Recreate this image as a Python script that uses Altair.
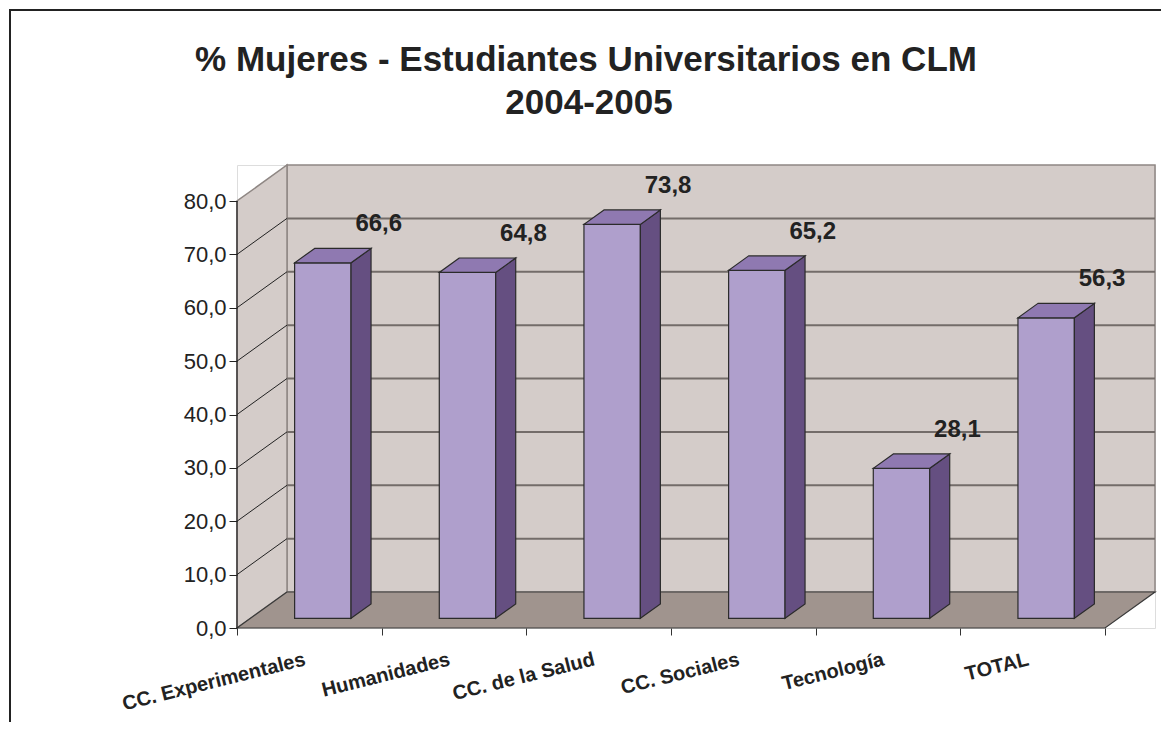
import altair as alt
import pandas as pd

# ---- data ----
categories = ["CC. Experimentales", "Humanidades", "CC. de la Salud",
              "CC. Sociales", "Tecnología", "TOTAL"]
values = [66.6, 64.8, 73.8, 65.2, 28.1, 56.3]
y_ticks = [0, 10, 20, 30, 40, 50, 60, 70, 80]
title_lines = ["% Mujeres - Estudiantes Universitarios en CLM", "2004-2005"]

# ---- 3D styling constants ----
W, H = 918, 463
N = len(categories)
YMAX = 80
DX = 50 / ((W - 50) / N)     # depth in category units
DY = 36 / ((H - 36) / YMAX)  # depth in value units
FF = 0.27   # depth position of bar front face (fraction of floor depth)
BW = 0.39   # bar width (category units)
BD = 0.40   # bar depth (fraction of floor depth)
FONT = "Liberation Sans"

WALL = "#D4CCC9"
WALL_EDGE = "#8F8784"
FLOOR = "#A0948E"
FRONT = "#AF9FCC"
SIDE = "#654F81"
TOP = "#8F79B1"
OUTLINE = "#2B2B2B"

xs = alt.Scale(domain=[0, N + DX], nice=False, zero=False)
ys = alt.Scale(domain=[0, YMAX + DY], nice=False, zero=False)

x_axis = alt.Axis(values=list(range(N + 1)), labels=False, domain=False, grid=False,
                  ticks=True, tickSize=7, tickColor="#333333", tickWidth=1, title=None,
                  zindex=1)
y_axis = alt.Axis(values=y_ticks, domain=False, grid=False, tickSize=8, tickColor="#222222",
                  labelExpr="replace(format(datum.value, '.1f'), '.', ',')",
                  labelFont=FONT, labelFontSize=22, labelColor="#222222", labelPadding=3,
                  title=None, zindex=1)


def X(f="x"):
    return alt.X(f"{f}:Q", scale=xs, axis=x_axis, title=None, stack=None)


def Y(f="y"):
    return alt.Y(f"{f}:Q", scale=ys, axis=y_axis, title=None, stack=None)


# ---- tables ----
back_df = pd.DataFrame([{"x": DX, "x2": N + DX, "y": DY, "y2": YMAX + DY}])
leftwall_df = pd.DataFrame([{"x": 0, "y": 0, "y2": YMAX, "id": 0},
                            {"x": DX, "y": DY, "y2": YMAX + DY, "id": 0}])
floor_df = pd.DataFrame([{"y": 0, "x": 0, "x2": N, "id": 0},
                         {"y": DY, "x": DX, "x2": N + DX, "id": 0}])
grid_back_df = pd.DataFrame([{"x": DX, "x2": N + DX, "y": v + DY} for v in y_ticks[1:-1]])
grid_left_df = pd.DataFrame([{"x": 0, "x2": DX, "y": v, "y2": v + DY} for v in y_ticks[1:-1]])
axis_line_df = pd.DataFrame([{"x": 0, "y": 0, "y2": YMAX}])

front_rows, side_rows, top_rows, lab_rows = [], [], [], []
for i, (c, v) in enumerate(zip(categories, values)):
    xl = i + 0.5 - BW / 2 + FF * DX
    xr = xl + BW
    yb = FF * DY
    yt = yb + v
    front_rows.append({"cat": c, "x": xl, "x2": xr, "y": yb, "y2": yt})
    side_rows += [{"cat": c, "x": xr, "y": yb, "y2": yt},
                  {"cat": c, "x": xr + BD * DX, "y": yb + BD * DY, "y2": yt + BD * DY}]
    top_rows += [{"cat": c, "y": yt, "x": xl, "x2": xr},
                 {"cat": c, "y": yt + BD * DY, "x": xl + BD * DX, "x2": xr + BD * DX}]
    lab_rows.append({"cat": c, "x": i + 0.98, "y": v + 9,
                     "label": f"{v:.1f}".replace(".", ",")})
front_df = pd.DataFrame(front_rows)
side_df = pd.DataFrame(side_rows)
top_df = pd.DataFrame(top_rows)
lab_df = pd.DataFrame(lab_rows)
xlab_df = pd.DataFrame({"x": [i + 0.48 for i in range(N)], "cat": categories})
title_df = pd.DataFrame({"line": [0, 1], "text": title_lines})
one = pd.DataFrame([{"k": 1}])

# ---- layers ----
frame = alt.Chart(one).mark_rect(fillOpacity=0, stroke="#222222", strokeWidth=2).encode(
    x=alt.value(-227), x2=alt.value(W + 60), y=alt.value(-155), y2=alt.value(H + 200))
back = alt.Chart(back_df).mark_rect(fill=WALL, stroke=WALL_EDGE, strokeWidth=1.5).encode(
    x=X(), x2="x2:Q", y=Y(), y2="y2:Q")
leftwall = alt.Chart(leftwall_df).mark_area(orient="vertical", fill=WALL, stroke=WALL_EDGE,
                                            strokeWidth=1.5).encode(
    x=X(), y=Y(), y2="y2:Q", detail="id:N")
floor = alt.Chart(floor_df).mark_area(orient="horizontal", fill=FLOOR, stroke="#3A3A3A",
                                      strokeWidth=1.2).encode(
    y=Y(), x=X(), x2="x2:Q", detail="id:N")
grid_back = alt.Chart(grid_back_df).mark_rule(color="#736C69", strokeWidth=2).encode(
    x=X(), x2="x2:Q", y=Y())
grid_left = alt.Chart(grid_left_df).mark_rule(color="#222222", strokeWidth=1).encode(
    x=X(), x2="x2:Q", y=Y(), y2="y2:Q")
axis_line = alt.Chart(axis_line_df).mark_rule(color="#222222", strokeWidth=1.2).encode(
    x=X(), y=Y(), y2="y2:Q")

fronts = alt.Chart(front_df).mark_rect(fill=FRONT, stroke=OUTLINE, strokeWidth=1.2).encode(
    x=X(), x2="x2:Q", y=Y(), y2="y2:Q")
sides = alt.Chart(side_df).mark_area(orient="vertical", fill=SIDE, stroke=OUTLINE,
                                     strokeWidth=1.2).encode(
    x=X(), y=Y(), y2="y2:Q", detail="cat:N")
tops = alt.Chart(top_df).mark_area(orient="horizontal", fill=TOP, stroke=OUTLINE,
                                   strokeWidth=1.2).encode(
    y=Y(), x=X(), x2="x2:Q", detail="cat:N")

labels = alt.Chart(lab_df).mark_text(font=FONT, fontSize=24, fontWeight="bold",
                                     color="#222222", baseline="middle", align="center").encode(
    x=X(), y=Y(), text="label:N")

xlabels = alt.Chart(xlab_df).mark_text(font=FONT, fontSize=20, fontWeight="bold",
                                       color="#222222", align="right", baseline="alphabetic",
                                       angle=346).encode(
    x=X(), y=alt.value(H + 37), text="cat:N")

title1 = alt.Chart(title_df).transform_filter("datum.line == 0").mark_text(
    font=FONT, fontSize=35, fontWeight="bold", color="#222222", align="center",
    baseline="alphabetic").encode(x=alt.value(349), y=alt.value(-94), text="text:N")
title2 = alt.Chart(title_df).transform_filter("datum.line == 1").mark_text(
    font=FONT, fontSize=35, fontWeight="bold", color="#222222", align="center",
    baseline="alphabetic").encode(x=alt.value(352), y=alt.value(-51), text="text:N")

chart = alt.layer(
    back, leftwall, floor, grid_back, grid_left, axis_line,
    fronts, sides, tops, labels, xlabels, title1, title2, frame
).properties(
    width=W, height=H,
    autosize=alt.AutoSizeParams(type="none"),
    padding={"left": 229, "top": 157, "right": 6, "bottom": 94},
).configure_view(stroke=None).configure(background="white")

chart.save("out.html", embed_options={"renderer": "svg", "actions": False})
